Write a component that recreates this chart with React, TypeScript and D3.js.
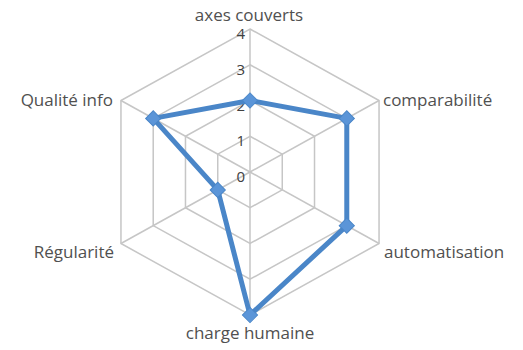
import React, { useEffect, useRef } from "react";
import * as d3 from "d3";

const axes = [
  "axes couverts",
  "comparabilité",
  "automatisation",
  "charge humaine",
  "Régularité",
  "Qualité info",
];
const values = [2, 3, 3, 4, 1, 3];
const ticks = [0, 1, 2, 3, 4];

export default function App() {
  const ref = useRef<SVGSVGElement>(null);

  useEffect(() => {
    const svg = d3.select(ref.current);
    svg.selectAll("*").remove();

    const cx = 250;
    const cy = 172;
    const sx = 1.042; // picture is a little wider than tall
    const r = d3.scaleLinear().domain([0, 4]).range([0, 143]);
    const angle = (i: number) => (i * 2 * Math.PI) / axes.length;
    const pt = (i: number, v: number): [number, number] => [
      cx + Math.sin(angle(i)) * r(v) * sx,
      cy - Math.cos(angle(i)) * r(v),
    ];

    const grid = svg.append("g");
    ticks.slice(1).forEach((t) => {
      grid
        .append("path")
        .attr("d", d3.line()(axes.map((_, i) => pt(i, t))) + "Z")
        .attr("fill", "none")
        .attr("stroke", "#c6c6c6")
        .attr("stroke-width", 1.5);
    });
    axes.forEach((_, i) => {
      const [x, y] = pt(i, 4);
      grid
        .append("line")
        .attr("x1", cx)
        .attr("y1", cy)
        .attr("x2", x)
        .attr("y2", y)
        .attr("stroke", "#c6c6c6")
        .attr("stroke-width", 1.5);
    });

    svg
      .append("g")
      .selectAll("text")
      .data(ticks)
      .enter()
      .append("text")
      .attr("x", cx - 5)
      .attr("y", (d) => cy - r(d) + 10)
      .attr("text-anchor", "end")
      .attr("font-size", 15)
      .attr("fill", "#404040")
      .text((d) => d);

    const line = d3.line()(values.map((v, i) => pt(i, v))) + "Z";
    svg
      .append("path")
      .attr("d", line)
      .attr("fill", "none")
      .attr("stroke", "#4a86c8")
      .attr("stroke-width", 5)
      .attr("stroke-linejoin", "round");

    svg
      .append("g")
      .selectAll("path")
      .data(values)
      .enter()
      .append("path")
      .attr("d", d3.symbol(d3.symbolSquare, 115)())
      .attr("transform", (d, i) => {
        const [x, y] = pt(i, d);
        return `translate(${x},${y}) rotate(45)`;
      })
      .attr("fill", "#5b95d8")
      .attr("stroke", "#4a86c8")
      .attr("stroke-width", 1);

    const labelPos: [number, number, string][] = [
      [249, 21, "middle"],
      [383, 106, "start"],
      [384, 258, "start"],
      [250, 339, "middle"],
      [114, 258, "end"],
      [113, 106, "end"],
    ];
    svg
      .append("g")
      .selectAll("text")
      .data(axes)
      .enter()
      .append("text")
      .attr("x", (d, i) => labelPos[i][0])
      .attr("y", (d, i) => labelPos[i][1])
      .attr("text-anchor", (d, i) => labelPos[i][2])
      .attr("font-size", 17)
      .attr("fill", "#505050")
      .text((d) => d);
  }, []);

  return (
    <svg
      ref={ref}
      width={523}
      height={350}
      style={{ position: "absolute", left: 0, top: 0, fontFamily: "Open Sans, sans-serif", background: "#fff" }}
    ></svg>
  );
}
